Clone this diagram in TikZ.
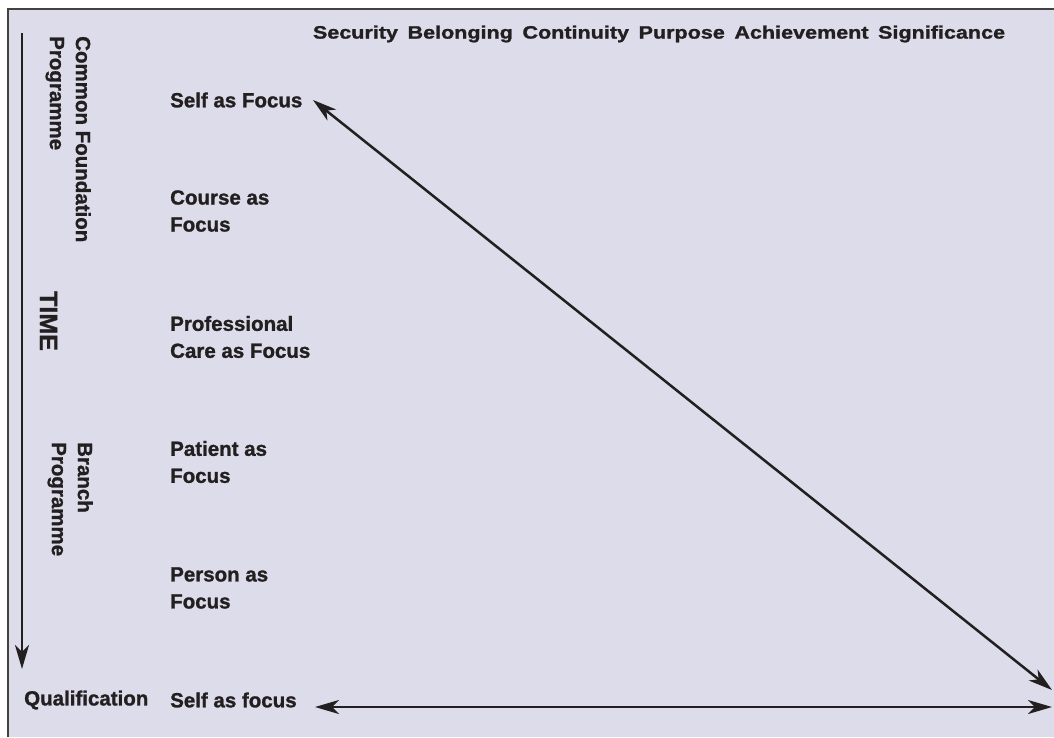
\documentclass[tikz,border=0pt]{standalone}
\usepackage{fontspec}
\setmainfont{Liberation Sans}[BoldFeatures={FakeBold=1.2}]
\usetikzlibrary{arrows.meta}
\definecolor{bgl}{HTML}{DCDCEA}
\definecolor{ink}{HTML}{231F20}
\tikzset{
  lbl/.style={font=\fontsize{20.5}{27}\selectfont\bfseries, text=ink, inner sep=0pt, anchor=west, align=left},
  rlbl/.style={font=\fontsize{20.5}{26}\selectfont\bfseries, text=ink, inner sep=0pt, rotate=-90, align=left},
  arr/.style={line width=2.5pt, draw=ink, -{Stealth[length=24pt,width=14pt,inset=7pt]}},
  darr/.style={line width=2.5pt, draw=ink, {Stealth[length=24pt,width=14pt,inset=7pt]}-{Stealth[length=24pt,width=14pt,inset=7pt]}}
}
\begin{document}
\begin{tikzpicture}[x=1pt,y=-1pt]
\useasboundingbox (0,0) rectangle (1054,737);
\fill[white] (0,0) rectangle (1054,737);
\fill[bgl] (8,9) rectangle (1054,737);
\draw[line width=2pt, draw=ink!85] (8,737) -- (8,9) -- (1054,9);

\node[font=\bfseries, text=ink, inner sep=0pt] (hdr) at (659,34)
  {\resizebox{692pt}{13pt}{Security\, Belonging\, Continuity\, Purpose\, Achievement\, Significance}};

\node[lbl] (self1) at (170,100) {Self as Focus};
\node[lbl] (course) at (170,211) {Course as\\Focus};
\node[lbl] (prof) at (170,337) {Professional\\Care as Focus};
\node[lbl] (patient) at (170,462) {Patient as\\Focus};
\node[lbl] (person) at (170,588) {Person as\\Focus};
\node[lbl] (qual) at (24,700) {Qualification};
\node[lbl] (self2) at (170,700) {Self as focus};

\node[rlbl, anchor=north west] (cfp) at (91,36) {Common Foundation\\Programme};
\node[rlbl, anchor=center, font=\fontsize{25}{30}\selectfont\bfseries] (time) at (48.5,321) {TIME};
\node[rlbl, anchor=north west] (branch) at (93,442) {Branch\\Programme};

\coordinate (t1) at (22,33);
\coordinate (t2) at (22,669);
\draw[arr] (t1) -- (t2);

\coordinate (d1) at (313,100);
\coordinate (d2) at (1052,690);
\draw[darr] (d1) -- (d2);

\coordinate (h1) at (315,707);
\coordinate (h2) at (1052,707);
\draw[darr] (h1) -- (h2);
\end{tikzpicture}
\end{document}
